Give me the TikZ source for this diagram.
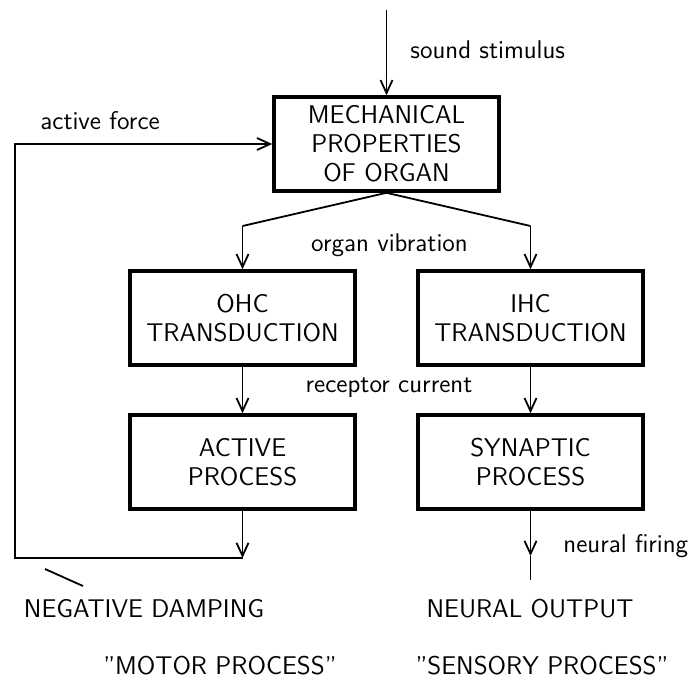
\documentclass[tikz,border=0pt]{standalone}
\usetikzlibrary{arrows.meta}

\begin{document}
\begin{tikzpicture}[
  x=0.5pt, y=-0.5pt,
  box/.style={draw, line width=1.8pt, minimum width=112.5pt, minimum height=47pt,
    inner sep=0pt, align=center, font=\sffamily\fontsize{12.8}{14.5}\selectfont},
  flow/.style={-{Straight Barb[length=6.5pt,width=6pt]}, line width=0.9pt},
  wire/.style={line width=0.9pt},
  note/.style={font=\sffamily\fontsize{12.8}{14.5}\selectfont, inner sep=0pt},
]

% Frame (pixel coordinates of the figure)
\useasboundingbox (0,0) rectangle (694,679);

% Blocks
\node[box] (mech)   at (386.5,144) {MECHANICAL\\PROPERTIES\\OF ORGAN};
\node[box] (ohc)    at (242.5,318) {OHC\\TRANSDUCTION};
\node[box] (ihc)    at (530.5,318) {IHC\\TRANSDUCTION};
\node[box] (active) at (242.5,462) {ACTIVE\\PROCESS};
\node[box] (synap)  at (530.5,462) {SYNAPTIC\\PROCESS};

% Free ends and corners
\coordinate (stim) at (386.5,10);
\coordinate (splitl) at (242.5,226);
\coordinate (splitr) at (530.5,226);
\coordinate (fbk) at (242.5,558);
\coordinate (fbcorner) at (15,558);
\coordinate (firing) at (530.5,556);
\coordinate (nout) at (530.5,580);

% Input and split
\draw[flow] (stim) -- (mech.north);
\draw[wire] (splitl) -- (mech.south) -- (splitr);
\draw[flow] (splitl) -- (ohc.north);
\draw[flow] (splitr) -- (ihc.north);

% Receptor current
\draw[flow] (ohc.south) -- (active.north);
\draw[flow] (ihc.south) -- (synap.north);

% Feedback loop
\draw[flow] (active.south) -- (fbk);
\draw[flow] (fbk) -- (fbcorner) |- (mech.west);
\draw[wire] (45,569) -- (83,586);

% Neural output
\draw[flow] (synap.south) -- (firing);
\draw[wire] (firing) -- (nout);

% Labels
\node[note, anchor=west] (lstim) at (410,50) {sound stimulus};
\node[note, anchor=west] (lforce) at (40,121) {active force};
\node[note] (lvib) at (389.5,245) {organ vibration};
\node[note] (lrec) at (389,388) {receptor current};
\node[note, anchor=west] (lfire) at (563,546) {neural firing};
\node[note] (lneg) at (144,609) {NEGATIVE DAMPING};
\node[note] (lneur) at (530,609) {NEURAL OUTPUT};
\node[note] (lmotor) at (220,666) {"MOTOR PROCESS"};
\node[note] (lsens) at (542,666) {"SENSORY PROCESS"};

\end{tikzpicture}
\end{document}
